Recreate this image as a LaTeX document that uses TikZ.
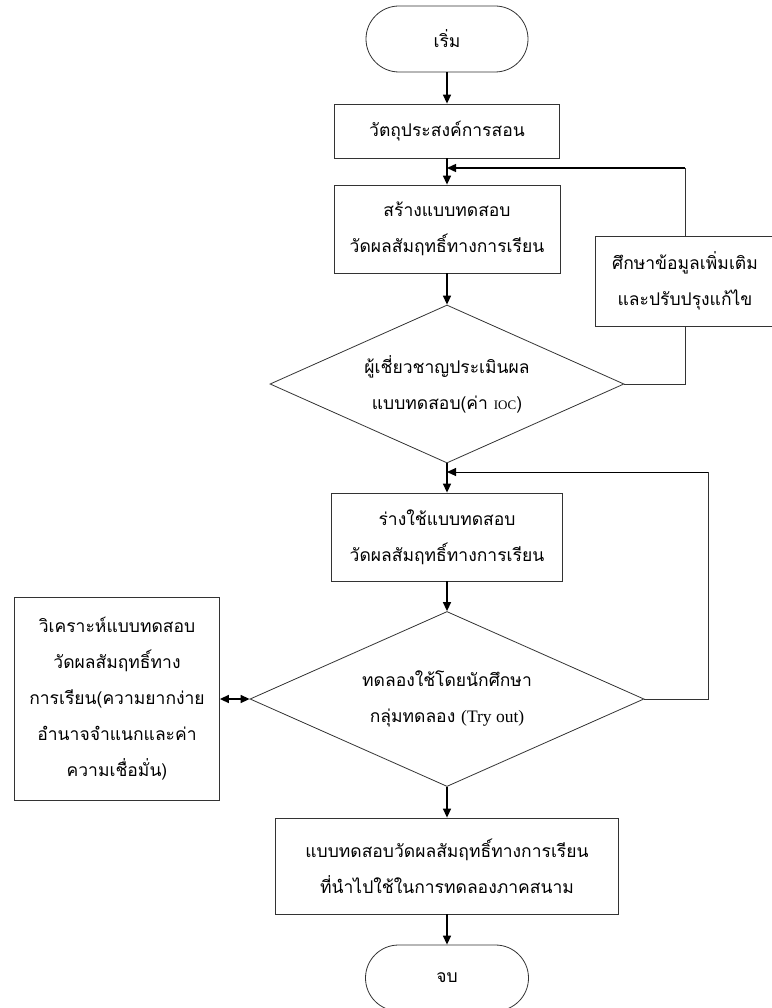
\documentclass[tikz,border=0pt]{standalone}
\usepackage{fontspec}
\newfontfamily\thaifont[Script=Thai]{Loma}
\newfontfamily\latinfont{Liberation Serif}
\usetikzlibrary{shapes.geometric, arrows.meta}
\newcommand{\flowfont}{\thaifont\fontsize{17.5pt}{36pt}\selectfont}
\tikzset{
    process/.style={
           rectangle,
           draw=black!80, line width=0.8pt,
           inner sep=2pt,
           align=center,
           font=\flowfont,
           },
    terminal/.style={
           process,
           minimum height=66pt,
           rounded corners=33pt,
           },
    decision/.style={
           diamond,
           draw=black!80, line width=0.8pt,
           inner sep=0pt,
           aspect=2.2,
           align=center,
           font=\flowfont,
           },
    arrowline/.style={->, line width=1.4pt},
    thinline/.style={-, line width=0.8pt, draw=black!80},
}

\begin{document}
\begin{tikzpicture}[x=1pt, y=-1pt, >={Triangle[length=9pt,width=8pt]}]
   % page frame, same size as the original picture
   \useasboundingbox (0,0) rectangle (771,1008);

   % main column, everything centered on x = 447
   \node[terminal, minimum width=162pt] (start) at (447,39) {เริ่ม};
   \node[process, minimum width=225pt, minimum height=54pt] (objective) at (447,131)
    {วัตถุประสงค์การสอน};
   \node[process, minimum width=226pt, minimum height=88pt] (build) at (447,229)
    {สร้างแบบทดสอบ\\วัดผลสัมฤทธิ์ทางการเรียน};
   \node[decision, minimum width=354pt, minimum height=158pt] (expert) at (447,384)
    {ผู้เชี่ยวชาญประเมินผล\\แบบทดสอบ(ค่า {\latinfont\fontsize{13pt}{36pt}\selectfont IOC})};
   \node[process, minimum width=231pt, minimum height=88pt] (draft) at (447,537)
    {ร่างใช้แบบทดสอบ\\วัดผลสัมฤทธิ์ทางการเรียน};
   \node[decision, minimum width=394pt, minimum height=175pt] (tryout) at (447,699)
    {ทดลองใช้โดยนักศึกษา\\กลุ่มทดลอง {\latinfont (Try out)}};
   \node[process, minimum width=343pt, minimum height=96pt] (final) at (447,866)
    {แบบทดสอบวัดผลสัมฤทธิ์ทางการเรียน\\ที่นำไปใช้ในการทดลองภาคสนาม};
   \node[terminal, minimum width=163pt] (finish) at (447,978) {จบ};

   % side boxes
   \node[process, minimum width=180pt, minimum height=90pt] (study) at (685,281)
    {ศึกษาข้อมูลเพิ่มเติม\\และปรับปรุงแก้ไข};
   \node[process, minimum width=205pt, minimum height=203pt] (analyze) at (117,699)
    {วิเคราะห์แบบทดสอบ\\วัดผลสัมฤทธิ์ทาง\\การเรียน(ความยากง่าย\\อำนาจจำแนกและค่า\\ความเชื่อมั่น)};

   % main flow
   \path[arrowline]
   (start) edge (objective)
   (objective) edge (build)
   (build) edge (expert)
   (expert) edge (draft)
   (draft) edge (tryout)
   (tryout) edge (final)
   (final) edge (finish)
   ;

   % loop back after the expert check
   \coordinate (backone) at (685,168);
   \draw[thinline] (expert.east) -| (study.south);
   \draw[thinline] (study.north) -- (backone);
   \draw[arrowline] (backone) -- (backone -| build.north);

   % loop back after the try out
   \coordinate (backtwo) at (708,472);
   \draw[thinline] (tryout.east) -| (backtwo);
   \draw[arrowline, line width=1pt] (backtwo) -- (backtwo -| draft.north);

   % item analysis
   \draw[arrowline, <->] (analyze.east) -- (tryout.west);
\end{tikzpicture}
\end{document}
